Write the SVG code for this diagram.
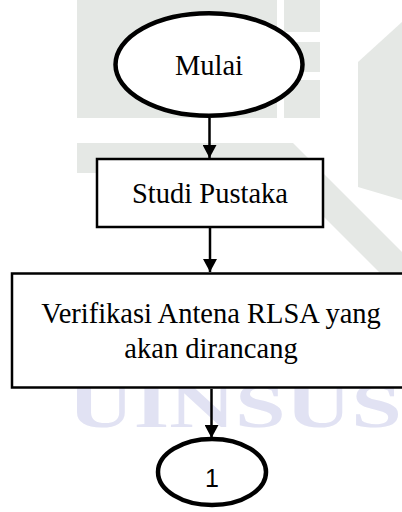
<svg xmlns="http://www.w3.org/2000/svg" width="402" height="512" viewBox="0 0 402 512">
  <style>
    .wm { fill: #e5e8e5; stroke: none; }
    .wmtext { fill: #e1e2f3; font-family: "Liberation Serif", serif; font-weight: bold; font-size: 64px; }
    .node { fill: #ffffff; stroke: #000000; }
    .term { stroke-width: 4.5; }
    .proc { stroke-width: 2.5; }
    .label { font-family: "Liberation Serif", "Times New Roman", serif; font-size: 28.5px; fill: #000000; text-anchor: middle; }
    .num { font-family: "Liberation Sans", Arial, sans-serif; font-size: 25px; fill: #000000; text-anchor: middle; }
    .edge { stroke: #000000; stroke-width: 2.5; fill: none; }
  </style>
  <defs>
    <marker id="arrow" viewBox="0 0 14 15" refX="14" refY="7.5" markerWidth="15" markerHeight="14" markerUnits="userSpaceOnUse" orient="auto">
      <path d="M0,0 L14,7.5 L0,15 Z" fill="#000000"/>
    </marker>
  </defs>

  <g id="watermark">
    <rect class="wm" x="77" y="0" width="200" height="118"/>
    <rect class="wm" x="284" y="0" width="36" height="32"/>
    <rect class="wm" x="284" y="42" width="36" height="30"/>
    <rect class="wm" x="284" y="80" width="36" height="38"/>
    <polygon class="wm" points="77,143 293,143 402,252 402,295 280,173 77,173"/>
    <polygon class="wm" points="358,62 402,22 402,200 358,187"/>
    <text class="wmtext" x="68" y="427" textLength="334" lengthAdjust="spacingAndGlyphs">UINSUS</text>
  </g>

  <g id="connectors">
    <line class="edge" x1="209.5" y1="118" x2="209.5" y2="158" marker-end="url(#arrow)"/>
    <line class="edge" x1="210" y1="228" x2="210" y2="272" marker-end="url(#arrow)"/>
    <line class="edge" x1="211.5" y1="389" x2="211.5" y2="438" marker-end="url(#arrow)"/>
  </g>

  <g id="node-mulai">
    <ellipse class="node term" cx="209" cy="64.5" rx="93.5" ry="51.3"/>
    <text class="label" x="209" y="74.5">Mulai</text>
  </g>

  <g id="node-studi">
    <rect class="node proc" x="97" y="159" width="226" height="68"/>
    <text class="label" x="210" y="203">Studi Pustaka</text>
  </g>

  <g id="node-verifikasi">
    <rect class="node proc" x="12" y="273.5" width="400" height="114"/>
    <text class="label" x="211" y="323">Verifikasi Antena RLSA yang</text>
    <text class="label" x="211" y="357.5">akan dirancang</text>
  </g>

  <g id="node-1">
    <ellipse class="node term" cx="212" cy="472" rx="54" ry="33"/>
    <text class="num" x="212" y="487">1</text>
  </g>
</svg>
